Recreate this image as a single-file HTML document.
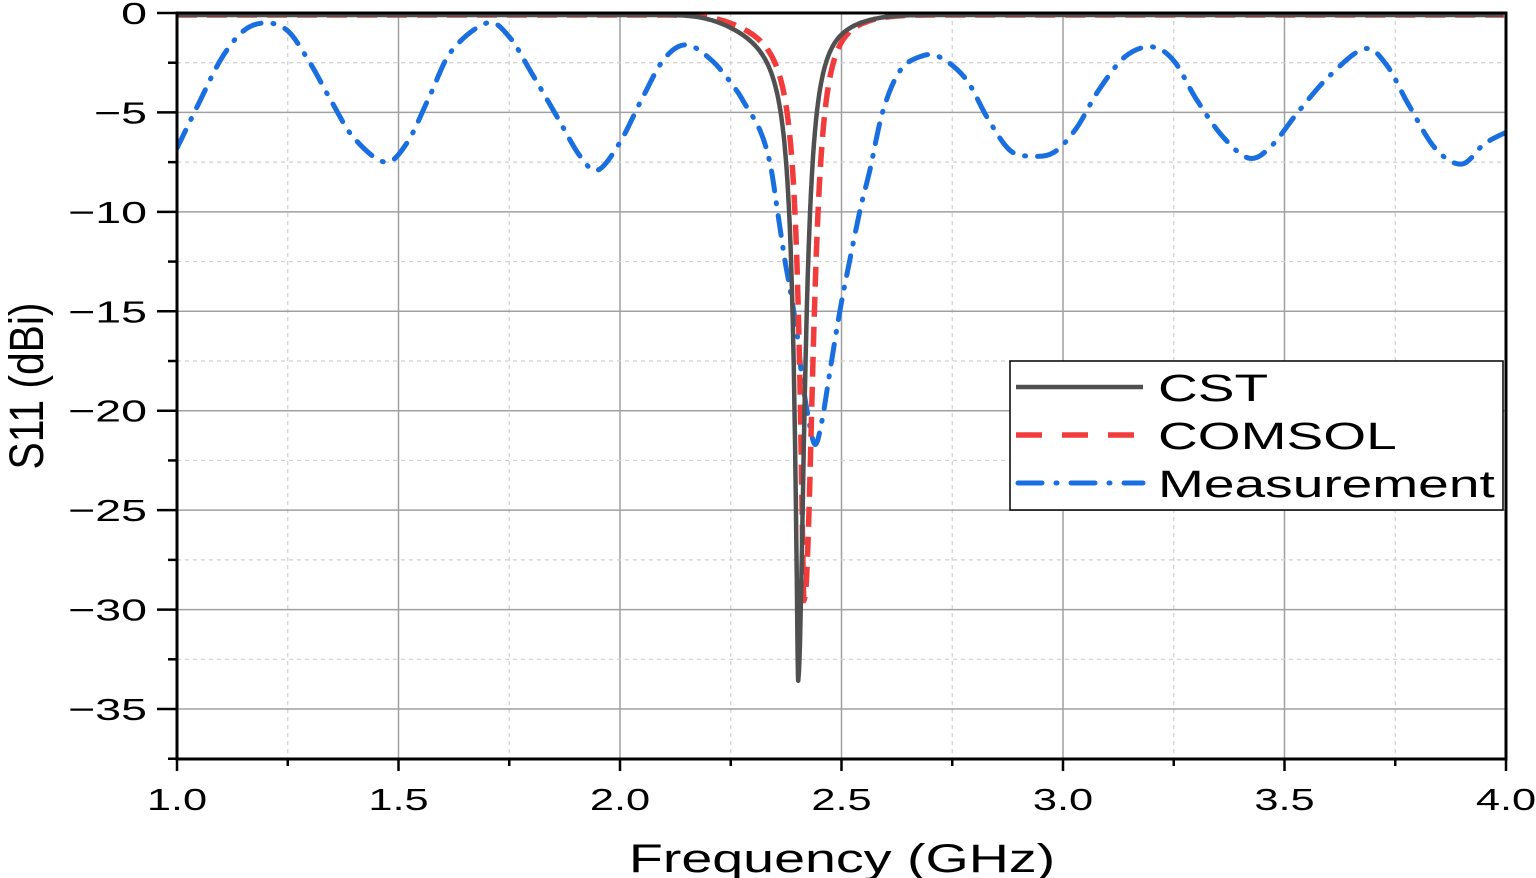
<!DOCTYPE html>
<html><head><meta charset="utf-8"><style>
html,body{margin:0;padding:0;background:#fff;}
svg{display:block;font-family:"Liberation Sans",Arial,sans-serif;}
</style></head><body>
<svg id="s" width="1536" height="878" viewBox="0 0 1536 878" xmlns="http://www.w3.org/2000/svg"></svg>
<script>
const s=document.getElementById('s');
const X=f=>177+(f-1)*443, Y=d=>13-d*19.886;
let h='';
function T(x,y,fs,txt,anchor,sx){return `<text transform="translate(${x},${y}) scale(${sx},1)" font-size="${fs}" text-anchor="${anchor}">${txt}</text>`;}
for(let i=0;i<=12;i++){const f=1+i*0.25,x=X(f);const maj=i%2==0;
 if(i>0&&i<12) h+=`<line x1="${x}" y1="13" x2="${x}" y2="759" stroke="${maj?'#a0a0a0':'#d0d0d0'}" stroke-width="${maj?1.5:1.2}" ${maj?'':'stroke-dasharray="4,4"'}/>`;
 h+=`<line x1="${x}" y1="759" x2="${x}" y2="${maj?771:766}" stroke="#000" stroke-width="2.5"/>`;
 if(maj) h+=T(x,810,31,f.toFixed(1),'middle',1.4);}
for(let i=0;i<=15;i++){const d=-i*2.5,y=Y(d);const maj=i%2==0;
 if(i>0) h+=`<line x1="177" y1="${y}" x2="1506" y2="${y}" stroke="${maj?'#a0a0a0':'#d0d0d0'}" stroke-width="${maj?1.5:1.2}" ${maj?'':'stroke-dasharray="4,4"'}/>`;
 h+=`<line x1="${maj?157:168}" y1="${y}" x2="177" y2="${y}" stroke="#000" stroke-width="2.5"/>`;
 if(maj) h+=T(147,y+11,31,d==0?'0':'\u2212'+(-d),'end',1.5);}
function cr(pts){let p=`M${pts[0][0].toFixed(1)},${pts[0][1].toFixed(1)}`;
 for(let i=0;i<pts.length-1;i++){const p0=pts[Math.max(0,i-1)],p1=pts[i],p2=pts[i+1],p3=pts[Math.min(pts.length-1,i+2)];
 const c1=[p1[0]+(p2[0]-p0[0])/6,p1[1]+(p2[1]-p0[1])/6],c2=[p2[0]-(p3[0]-p1[0])/6,p2[1]-(p3[1]-p1[1])/6];
 p+=`C${c1[0].toFixed(1)},${c1[1].toFixed(1)} ${c2[0].toFixed(1)},${c2[1].toFixed(1)} ${p2[0].toFixed(1)},${p2[1].toFixed(1)}`;}return p;}
function lor(f0,mn,wl,pl,wr,pr){let pts=[];for(let f=1;f<=4.0001;f+=(Math.abs(f-f0)<0.15?0.001:0.01)){const w=f<f0?wl:wr,p=f<f0?pl:pr;const d=Math.abs(f-f0);const u=d/w;const env=Math.exp(-Math.pow(d/0.2,4));pts.push([X(f),Y(mn/(1+Math.pow(u,p))*env-0.1)]);}return pts;}
const meas=[[1.0,-6.8],[1.05,-4.5],[1.1,-2.3],[1.15,-0.9],[1.2,-0.5],[1.25,-0.9],[1.3,-2.5],[1.35,-4.5],[1.4,-6.3],[1.47,-7.5],[1.52,-6.5],[1.57,-4.2],[1.62,-1.9],[1.7,-0.5],[1.75,-1.2],[1.8,-3.0],[1.86,-5.3],[1.91,-7.2],[1.95,-7.9],[2.0,-6.5],[2.05,-4.3],[2.1,-2.3],[2.15,-1.6],[2.208,-2.4],[2.26,-3.8],[2.28,-4.5],[2.316,-5.9],[2.339,-7.6],[2.357,-10.2],[2.372,-12.4],[2.384,-13.9],[2.399,-16],[2.41,-18.2],[2.424,-20.2],[2.44,-21.7],[2.456,-20.5],[2.474,-18],[2.497,-14.9],[2.519,-12.4],[2.542,-9.9],[2.564,-7.9],[2.594,-4.9],[2.632,-2.9],[2.677,-2.2],[2.72,-2.2],[2.78,-3.3],[2.83,-5.3],[2.88,-6.9],[2.93,-7.2],[2.98,-7.0],[3.03,-5.8],[3.08,-3.9],[3.14,-2.2],[3.2,-1.7],[3.25,-2.4],[3.3,-4.3],[3.36,-6.2],[3.42,-7.3],[3.47,-6.7],[3.53,-5.0],[3.6,-3.2],[3.68,-1.8],[3.73,-2.6],[3.78,-4.6],[3.84,-6.8],[3.9,-7.6],[3.95,-6.6],[4.0,-6.0]].map(p=>[X(p[0]),Y(p[1])]);
h+=`<defs><clipPath id="c"><rect x="177" y="13" width="1329" height="746"/></clipPath></defs><g clip-path="url(#c)">`;
h+=`<path d="${cr(meas)}" fill="none" stroke="#1a6fe0" stroke-width="5" stroke-linecap="round" stroke-dasharray="20,12,1,12"/>`;
h+=`<path d="${cr(lor(2.415,-29.4,0.0127,1.47,0.0241,2.37))}" fill="none" stroke="#f23c3c" stroke-width="5.5" stroke-dasharray="20,10"/>`;
h+=`<path d="${cr(lor(2.402,-33.4,0.0107,1.35,0.0176,2))}" fill="none" stroke="#505050" stroke-width="4.5"/>`;
h+=`</g>`;
h+=`<path d="M177,13 H1506 V759 H177 Z" fill="none" stroke="#000" stroke-width="3"/>`;
h+=`<rect x="1010" y="361" width="493" height="149" fill="#fff" stroke="#000" stroke-width="1.5"/>`;
h+=`<line x1="1016" y1="387" x2="1143" y2="387" stroke="#505050" stroke-width="4.5"/>`;
h+=`<line x1="1016" y1="435" x2="1143" y2="435" stroke="#f23c3c" stroke-width="5.5" stroke-dasharray="26,20"/>`;
h+=`<line x1="1018" y1="483" x2="1143" y2="483" stroke="#1a6fe0" stroke-width="5" stroke-linecap="round" stroke-dasharray="24,14,1,14"/>`;
h+=T(1158,401,38,'CST','start',1.45)+T(1158,449,38,'COMSOL','start',1.45)+T(1158,497,38,'Measurement','start',1.45);
h+=T(842,872,40,'Frequency (GHz)','middle',1.39);
h+=`<text transform="translate(43,386) rotate(-90) scale(0.85,1)" font-size="48" text-anchor="middle">S11 (dBi)</text>`;
s.innerHTML=h;
</script>
</body></html>
